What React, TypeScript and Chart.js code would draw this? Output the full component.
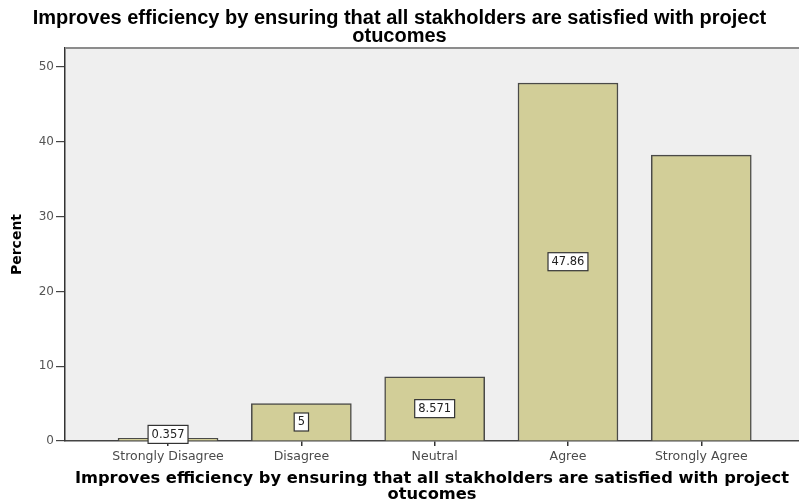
import React, { useEffect, useRef } from "react";
import { Chart, registerables } from "chart.js";

Chart.register(...registerables);

const categories = ["Strongly Disagree", "Disagree", "Neutral", "Agree", "Strongly Agree"];
const percents = [0.357, 5, 8.571, 47.86, 38.21];
const barLabels: (string | null)[] = ["0.357", "5", "8.571", "47.86", null];
const yTicks = [0, 10, 20, 30, 40, 50];
const titleLines = ["Improves efficiency by ensuring that all stakholders are satisfied with project", "otucomes"];

const BAR_FILL = "#d2ce98";
const BAR_EDGE = "#4a4a48";
const PLOT_BG = "#efefef";

const plotFrame = {
  id: "plotFrame",
  beforeDraw(chart: any) {
    const { ctx, chartArea } = chart;
    ctx.save();
    ctx.fillStyle = PLOT_BG;
    ctx.fillRect(chartArea.left, chartArea.top, chartArea.right - chartArea.left, chartArea.bottom - chartArea.top);
    ctx.restore();
  },
  afterDraw(chart: any) {
    const { ctx, chartArea } = chart;
    ctx.save();
    ctx.strokeStyle = "#8c8c8c";
    ctx.lineWidth = 2;
    ctx.beginPath();
    ctx.moveTo(chartArea.left, chartArea.top);
    ctx.lineTo(chartArea.right, chartArea.top);
    ctx.stroke();
    ctx.restore();
  },
};

const valueBoxes = {
  id: "valueBoxes",
  afterDatasetsDraw(chart: any) {
    const { ctx } = chart;
    const meta = chart.getDatasetMeta(0);
    ctx.save();
    ctx.font = "11.5px 'DejaVu Sans'";
    ctx.textAlign = "center";
    ctx.textBaseline = "middle";
    meta.data.forEach((bar: any, i: number) => {
      const label = barLabels[i];
      if (!label) return;
      const props = bar.getProps(["x", "y", "base"], true);
      let cy = (props.y + props.base) / 2;
      cy = Math.min(cy, props.base - 6);
      const w = ctx.measureText(label).width + 7;
      const h = 18;
      ctx.fillStyle = "#ffffff";
      ctx.fillRect(props.x - w / 2, cy - h / 2, w, h);
      ctx.strokeStyle = "#333333";
      ctx.lineWidth = 1.2;
      ctx.strokeRect(props.x - w / 2, cy - h / 2, w, h);
      ctx.fillStyle = "#222222";
      ctx.fillText(label, props.x, cy + 0.5);
    });
    ctx.restore();
  },
};

export default function App() {
  const ref = useRef<HTMLCanvasElement | null>(null);

  useEffect(() => {
    document.body.style.margin = "0";
    const canvas = ref.current;
    if (!canvas) return;
    const chart = new Chart(canvas, {
      type: "bar",
      data: {
        datasets: [
          {
            data: categories.map((_, i) => ({ x: i, y: percents[i] })),
            backgroundColor: BAR_FILL,
            borderColor: BAR_EDGE,
            borderWidth: 1.5,
            barThickness: 100,
          },
        ],
      },
      options: {
        animation: false,
        responsive: false,
        maintainAspectRatio: false,
        layout: { padding: 0 },
        plugins: {
          legend: { display: false },
          tooltip: { enabled: false },
          title: {
            display: true,
            text: titleLines,
            color: "#000",
            font: { family: "'Liberation Sans', Arial", weight: "bold", size: 20, lineHeight: 0.88 },
            padding: { top: 10, bottom: 2.8 },
          },
        },
        scales: {
          x: {
            type: "linear",
            position: "bottom",
            offset: false,
            min: -0.773,
            max: 4.733,
            afterFit(scale: any) {
              scale.height = 62;
            },
            afterBuildTicks(scale: any) {
              scale.ticks = categories.map((_, i) => ({ value: i }));
            },
            ticks: {
              stepSize: 1,
              includeBounds: false,
              autoSkip: false,
              maxRotation: 0,
              color: "#4a4a4a",
              padding: 3,
              font: { family: "'DejaVu Sans'", size: 12.5 },
              callback: (v: any) => categories[v as number] ?? "",
            },
            grid: { drawOnChartArea: false, offset: false, tickLength: 5, color: "#333", lineWidth: 1.5 },
            border: { color: "#444", width: 1.5 },
            title: {
              display: true,
              text: titleLines,
              color: "#000",
              font: { family: "'DejaVu Sans'", weight: "bold", size: 16.3, lineHeight: 0.93 },
              padding: { top: 0, bottom: 1 },
            },
          },
          y: {
            min: 0,
            max: 52.54,
            afterFit(scale: any) {
              scale.width = 65;
            },
            afterBuildTicks(scale: any) {
              scale.ticks = yTicks.map((v) => ({ value: v }));
            },
            ticks: {
              includeBounds: false,
              color: "#555",
              padding: 2,
              font: { family: "'DejaVu Sans'", size: 12 },
            },
            grid: { drawOnChartArea: false, tickLength: 9, color: "#444", lineWidth: 1.2 },
            border: { color: "#333", width: 1.5 },
            title: {
              display: true,
              text: "Percent",
              color: "#000",
              font: { family: "'DejaVu Sans'", weight: "bold", size: 14 },
              padding: { top: 9, bottom: 0 },
            },
          },
        },
      } as any,
      plugins: [plotFrame, valueBoxes],
    });
    return () => chart.destroy();
  }, []);

  return (
    <div style={{ width: 799, height: 503 }}>
      <canvas ref={ref} width={799} height={503} style={{ display: "block" }} />
    </div>
  );
}
